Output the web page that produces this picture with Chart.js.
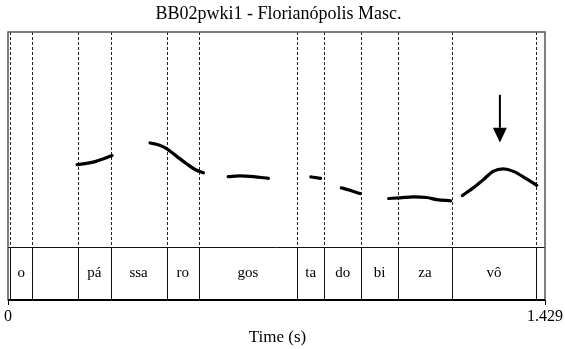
<!DOCTYPE html>
<html lang="pt">
<head>
    <meta charset="UTF-8">
    <title>BB02pwki1 - Florianópolis Masc.</title>
    <script src="https://cdn.jsdelivr.net/npm/chart.js"></script>
    <style>
        body { margin: 0; background: #fff; }
        #wrap { width: 565px; height: 349px; position: relative; }
    </style>
</head>
<body>
    <div id="wrap"><canvas id="grafico"></canvas></div>

    <script>
        // datos: tiempo (s) y F0 (Hz) por tramo
        const titulo = 'BB02pwki1 - Florianópolis Masc.';
        const duracion = 1.429;
        const segTiempos = [
            [0.184, 0.205, 0.232, 0.256, 0.277],
            [0.378, 0.405, 0.422, 0.449, 0.476, 0.502, 0.520],
            [0.586, 0.617, 0.653, 0.693],
            [0.806, 0.832],
            [0.887, 0.910, 0.937],
            [1.013, 1.043, 1.079, 1.114, 1.141, 1.178],
            [1.209, 1.238, 1.265, 1.291, 1.318, 1.345, 1.380, 1.407]
        ];
        const segHz = [
            [126.3, 127.2, 129.1, 131.9, 134.7],
            [146.5, 144.2, 141.2, 134.0, 126.9, 121.0, 118.6],
            [115.1, 115.8, 115.1, 113.5],
            [114.8, 113.5],
            [104.6, 102.4, 99.3],
            [94.7, 95.3, 96.2, 95.6, 93.7, 92.5],
            [97.4, 104.6, 112.3, 120.0, 122.3, 120.0, 113.0, 107.0]
        ];
        const limites = [0.0053, 0.0647, 0.187, 0.273, 0.422, 0.508, 0.769, 0.842, 0.939, 1.038, 1.181, 1.405];
        const silabas = ['o', '', 'pá', 'ssa', 'ro', 'gos', 'ta', 'do', 'bi', 'za', 'vô'];
        const flecha = { t: 1.309, desde: 191.4, base: 160.7, punta: 147.0 };
        const tierTop = 49.4;

        const datasets = segTiempos.map((ts, i) => ({
            data: ts.map((t, j) => ({ x: t, y: segHz[i][j] })),
            borderColor: '#000',
            borderWidth: 3.2,
            borderCapStyle: 'round',
            pointRadius: 0,
            cubicInterpolationMode: 'monotone',
            fill: false
        }));

        const serif = '"Liberation Serif", "DejaVu Serif", serif';

        const dibujo = {
            id: 'dibujo',
            beforeDatasetsDraw(chart) {
                const { ctx, chartArea: a, scales: { x, y } } = chart;
                const yTier = y.getPixelForValue(tierTop);
                ctx.save();
                // lineas punteadas de limites
                ctx.strokeStyle = '#222';
                ctx.lineWidth = 1;
                ctx.setLineDash([3, 2]);
                limites.forEach(t => {
                    const px = Math.round(x.getPixelForValue(t)) + 0.5;
                    ctx.beginPath();
                    ctx.moveTo(px, a.top);
                    ctx.lineTo(px, yTier);
                    ctx.stroke();
                });
                ctx.setLineDash([]);
                // tier
                ctx.strokeStyle = '#111';
                limites.forEach(t => {
                    const px = Math.round(x.getPixelForValue(t)) + 0.5;
                    ctx.beginPath();
                    ctx.moveTo(px, yTier);
                    ctx.lineTo(px, a.bottom);
                    ctx.stroke();
                });
                ctx.beginPath();
                ctx.moveTo(a.left, Math.round(yTier) + 0.5);
                ctx.lineTo(a.right, Math.round(yTier) + 0.5);
                ctx.stroke();
                ctx.font = '15px ' + serif;
                ctx.fillStyle = '#000';
                ctx.textAlign = 'center';
                ctx.textBaseline = 'middle';
                silabas.forEach((s, i) => {
                    const cx = (x.getPixelForValue(limites[i]) + x.getPixelForValue(limites[i + 1])) / 2;
                    ctx.fillText(s, cx, (yTier + a.bottom) / 2);
                });
                // marco
                ctx.strokeStyle = '#555';
                ctx.lineWidth = 1.5;
                ctx.strokeRect(a.left, a.top, a.right - a.left, a.bottom - a.top);
                ctx.strokeStyle = '#000';
                ctx.lineWidth = 2;
                ctx.beginPath();
                ctx.moveTo(a.left, a.bottom);
                ctx.lineTo(a.right, a.bottom);
                ctx.stroke();
                // ticks
                ctx.lineWidth = 1;
                [0, duracion].forEach(t => {
                    const px = Math.round(x.getPixelForValue(t)) + 0.5;
                    ctx.beginPath();
                    ctx.moveTo(px, a.bottom);
                    ctx.lineTo(px, a.bottom + 5);
                    ctx.stroke();
                });
                ctx.font = '16px ' + serif;
                ctx.textBaseline = 'top';
                ctx.fillText('0', x.getPixelForValue(0), a.bottom + 9);
                ctx.fillText(duracion.toFixed(3), x.getPixelForValue(duracion), a.bottom + 9);
                ctx.font = '17px ' + serif;
                ctx.fillText('Time (s)', (a.left + a.right) / 2 + 1, a.bottom + 29);
                ctx.font = '18px ' + serif;
                ctx.fillText(titulo, (a.left + a.right) / 2 + 2, 5);
                ctx.restore();
            },
            afterDatasetsDraw(chart) {
                const { ctx, scales: { x, y } } = chart;
                const px = x.getPixelForValue(flecha.t);
                const y0 = y.getPixelForValue(flecha.desde);
                const yb = y.getPixelForValue(flecha.base);
                const yp = y.getPixelForValue(flecha.punta);
                ctx.save();
                ctx.strokeStyle = '#000';
                ctx.fillStyle = '#000';
                ctx.lineWidth = 2;
                ctx.beginPath();
                ctx.moveTo(px, y0);
                ctx.lineTo(px, yb);
                ctx.stroke();
                ctx.beginPath();
                ctx.moveTo(px - 7, yb);
                ctx.lineTo(px + 7, yb);
                ctx.lineTo(px, yp);
                ctx.closePath();
                ctx.fill();
                ctx.restore();
            }
        };

        new Chart(document.getElementById('grafico'), {
            type: 'line',
            data: { datasets },
            options: {
                responsive: true,
                maintainAspectRatio: false,
                animation: false,
                layout: { padding: { left: 8, right: 20, top: 32, bottom: 49 } },
                plugins: { legend: { display: false }, tooltip: { enabled: false } },
                scales: {
                    x: { type: 'linear', min: 0, max: duracion, display: false },
                    y: { type: 'linear', min: 0, max: 250, display: false }
                }
            },
            plugins: [dibujo]
        });
    </script>
</body>
</html>
